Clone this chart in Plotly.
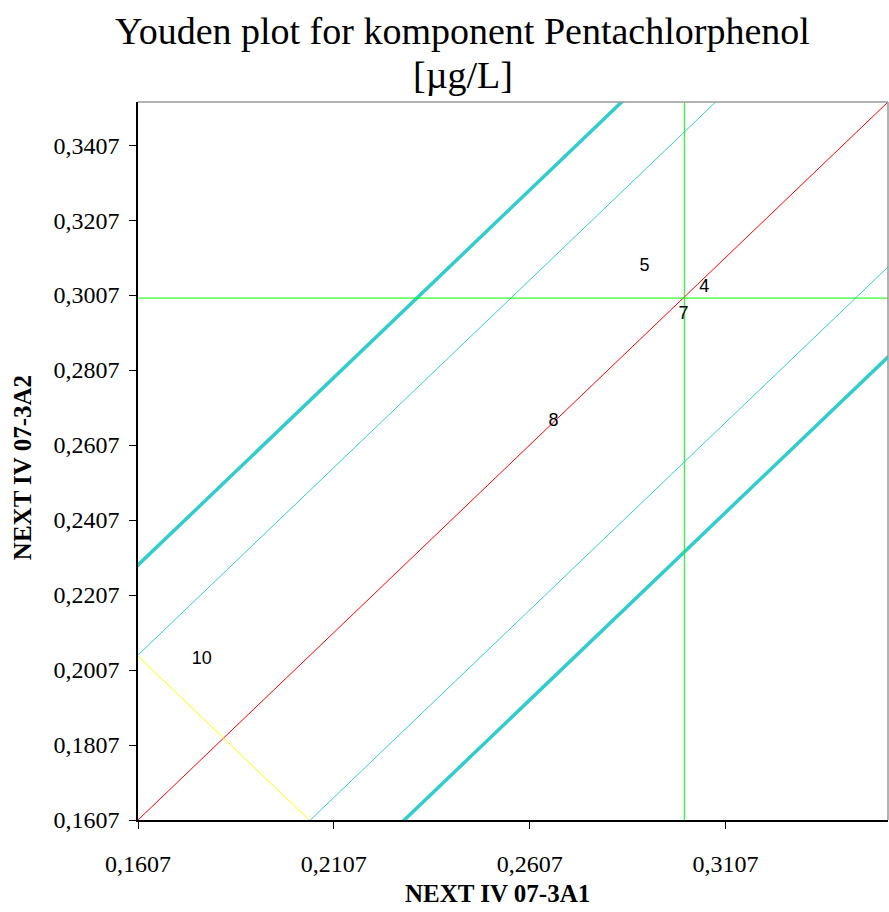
import plotly.graph_objects as go

# ---- data ----
axis_min = 0.1607
axis_max = 0.3522
x_ticks = [0.1607, 0.2107, 0.2607, 0.3107]
y_ticks = [0.1607, 0.1807, 0.2007, 0.2207, 0.2407, 0.2607, 0.2807, 0.3007, 0.3207, 0.3407]

center_x = 0.3002
center_y = 0.2999

inner_offset = 0.0440   # thin cyan limits
outer_offset = 0.0680   # thick cyan limits
yellow_sum = 0.3651     # x + y = const

labels = ["5", "4", "7", "8", "10"]
lab_x = [0.2900, 0.3053, 0.3000, 0.2668, 0.1770]
lab_y = [0.3082, 0.3026, 0.2956, 0.2671, 0.2036]

title1 = "Youden plot for komponent Pentachlorphenol"
title2 = "[µg/L]"
x_title = "NEXT IV 07-3A1"
y_title = "NEXT IV 07-3A2"

CYAN = "#33CCCC"
SERIF = "Liberation Serif"
SANS = "Liberation Sans"

fig = go.Figure()

ends = [axis_min - 0.1, axis_max + 0.1]

def diag(offset, color, width):
    fig.add_trace(go.Scatter(x=ends, y=[e + offset for e in ends], mode="lines",
                             line=dict(color=color, width=width), hoverinfo="skip"))

diag(outer_offset, CYAN, 3.5)
diag(-outer_offset, CYAN, 3.5)
diag(inner_offset, CYAN, 1)
diag(-inner_offset, CYAN, 1)
diag(0.0, "#FF0000", 1)

# yellow perpendicular line
fig.add_trace(go.Scatter(x=ends, y=[yellow_sum - e for e in ends], mode="lines",
                         line=dict(color="#FFFF00", width=1), hoverinfo="skip"))

# green center lines
fig.add_trace(go.Scatter(x=[center_x, center_x], y=ends, mode="lines",
                         line=dict(color="#00FF00", width=1), hoverinfo="skip"))
fig.add_trace(go.Scatter(x=ends, y=[center_y, center_y], mode="lines",
                         line=dict(color="#00FF00", width=1), hoverinfo="skip"))

# labs
fig.add_trace(go.Scatter(x=lab_x, y=lab_y, mode="text", text=labels,
                         textposition="middle center",
                         textfont=dict(family=SANS, size=18, color="black"),
                         cliponaxis=False, hoverinfo="skip"))

fig.update_layout(
    width=889, height=912,
    margin=dict(l=138, r=1, t=102, b=92),
    paper_bgcolor="white", plot_bgcolor="white",
    showlegend=False,
    separators=", ",
    xaxis=dict(range=[axis_min, axis_max], tickvals=x_ticks, tickformat=".4f",
               showgrid=False, zeroline=False, showline=True, linecolor="black", linewidth=1.5,
               ticks="outside", ticklen=7, tickcolor="black", ticklabelstandoff=14,
               tickfont=dict(family=SERIF, size=24, color="black")),
    yaxis=dict(range=[axis_min, axis_max], tickvals=y_ticks, tickformat=".4f",
               showgrid=False, zeroline=False, showline=True, linecolor="black", linewidth=1.5,
               ticks="outside", ticklen=7, tickcolor="black", ticklabelstandoff=5,
               tickfont=dict(family=SERIF, size=24, color="black")),
    shapes=[
        dict(type="line", xref="paper", yref="paper", x0=0, x1=1, y0=1, y1=1,
             line=dict(color="#999999", width=1.5)),
        dict(type="line", xref="paper", yref="paper", x0=1, x1=1, y0=0, y1=1,
             line=dict(color="#999999", width=1.5)),
    ],
    annotations=[
        dict(text=title1, xref="paper", yref="paper", x=(463 - 138) / 751, y=(820 - 31) / 718,
             xanchor="center", yanchor="middle", showarrow=False,
             font=dict(family=SERIF, size=38, color="black")),
        dict(text=title2, xref="paper", yref="paper", x=(463 - 138) / 751, y=(820 - 75) / 718,
             xanchor="center", yanchor="middle", showarrow=False,
             font=dict(family=SERIF, size=38, color="black")),
        dict(text="<b>" + x_title + "</b>", xref="paper", yref="paper", x=(498 - 138) / 751,
             y=(820 - 893) / 718, xanchor="center", yanchor="middle", showarrow=False,
             font=dict(family=SERIF, size=25, color="black")),
        dict(text="<b>" + y_title + "</b>", xref="paper", yref="paper", x=(22 - 138) / 751,
             y=(820 - 468) / 718, xanchor="center", yanchor="middle", showarrow=False,
             textangle=-90, font=dict(family=SERIF, size=25, color="black")),
    ],
)

fig.write_html("out.html")
